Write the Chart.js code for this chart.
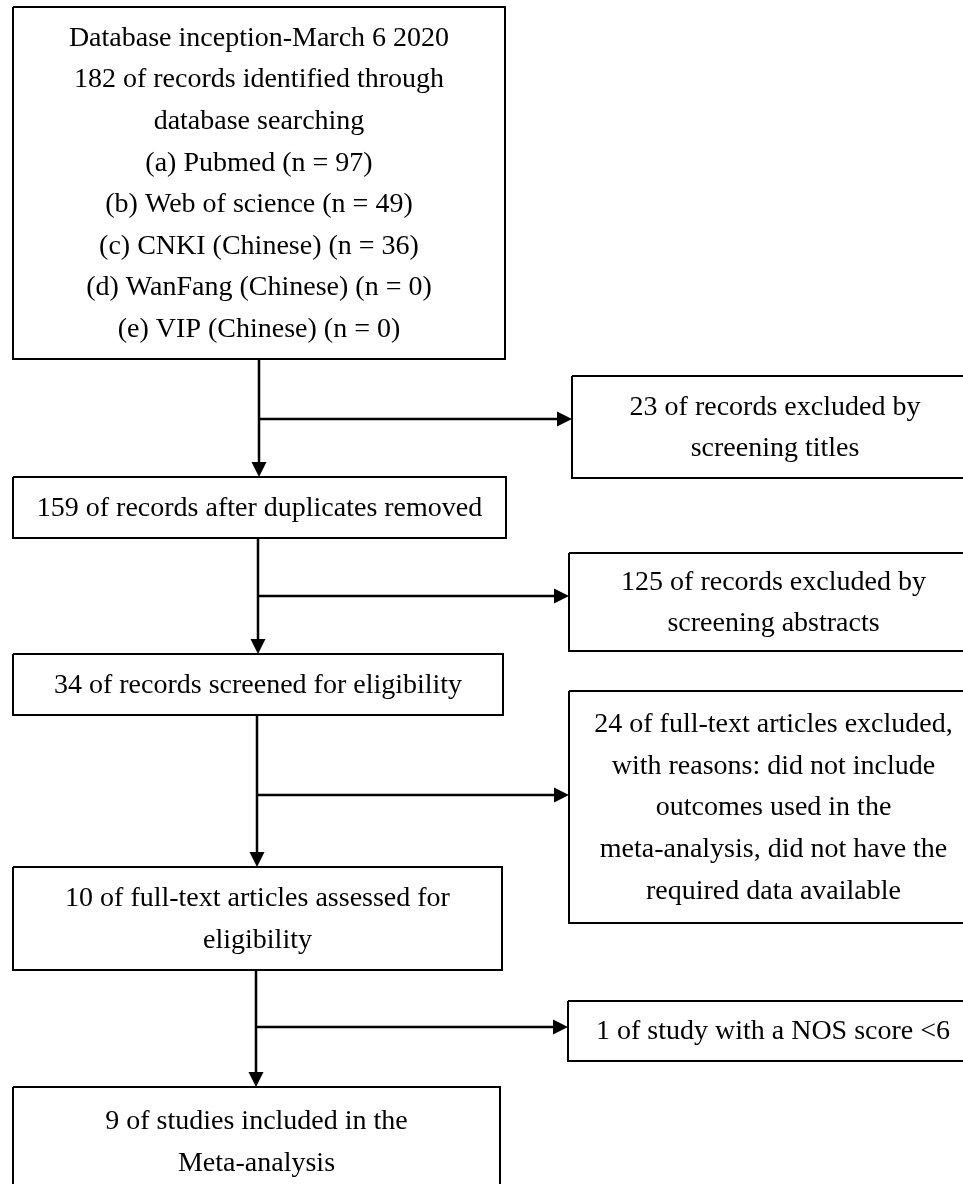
<!DOCTYPE html>
<html>
<head>
<meta charset="utf-8">
<script src="https://cdn.jsdelivr.net/npm/chart.js@4/dist/chart.umd.min.js"></script>
<style>
  html, body { margin: 0; padding: 0; background: #ffffff; }
  #wrap { width: 963px; height: 1184px; position: relative; }
</style>
</head>
<body>
<div id="wrap"><canvas id="c" width="963" height="1184"></canvas></div>
<script>
// ---- flowchart content (text of each box) ----
const boxTexts = [
  ["Database inception-March 6 2020", "182 of records identified through", "database searching",
   "(a) Pubmed (n = 97)", "(b) Web of science (n = 49)", "(c) CNKI (Chinese) (n = 36)",
   "(d) WanFang (Chinese) (n = 0)", "(e) VIP (Chinese) (n = 0)"],
  ["23 of records excluded by", "screening titles"],
  ["159 of records after duplicates removed"],
  ["125 of records excluded by", "screening abstracts"],
  ["34 of records screened for eligibility"],
  ["24 of full-text articles excluded,", "with reasons: did not include", "outcomes used in the",
   "meta-analysis, did not have the", "required data available"],
  ["10 of full-text articles assessed for", "eligibility"],
  ["1 of study with a NOS score <6"],
  ["9 of studies included in the", "Meta-analysis"]
];
// ---- layout in scale units (x: 0..963, y: 0..1184 top-down) ----
const boxLeft   = [13, 572, 13, 569, 13, 569, 13, 568, 13];
const boxTop    = [7, 376, 477, 553, 654, 691, 867, 1001, 1087];
const boxRight  = [505, 978, 506, 978, 503, 978, 502, 978, 500];
const boxBottom = [359, 478, 538, 651, 715, 923, 970, 1061, 1196];
const mainFlow  = [0, 2, 4, 6, 8];       // boxes along the main vertical path
const sideBoxes = [1, 3, 5, 7];          // exclusion boxes
const branchY   = [419, 596, 795, 1027]; // where each branch leaves the trunk
const trunkX    = [259, 258, 257, 256];  // trunk x for each segment

// ---- build datasets (outlines and connector lines) ----
const datasets = [];
for (let i = 0; i < boxTexts.length; i++) {
  datasets.push({
    data: [
      {x: boxLeft[i], y: boxTop[i]}, {x: boxRight[i], y: boxTop[i]},
      {x: boxRight[i], y: boxBottom[i]}, {x: boxLeft[i], y: boxBottom[i]},
      {x: boxLeft[i], y: boxTop[i]}
    ],
    showLine: true, borderColor: '#000', borderWidth: 2, pointRadius: 0,
    fill: false, tension: 0, borderJoinStyle: 'miter', clip: false
  });
}
const arrows = [];
for (let s = 0; s < 4; s++) {
  const a = mainFlow[s], b = mainFlow[s + 1], side = sideBoxes[s];
  datasets.push({
    data: [{x: trunkX[s], y: boxBottom[a]}, {x: trunkX[s], y: boxTop[b] - 12}],
    showLine: true, borderColor: '#000', borderWidth: 2.5, pointRadius: 0, fill: false
  });
  datasets.push({
    data: [{x: trunkX[s], y: branchY[s]}, {x: boxLeft[side] - 12, y: branchY[s]}],
    showLine: true, borderColor: '#000', borderWidth: 2.5, pointRadius: 0, fill: false
  });
  arrows.push({x: trunkX[s], y: boxTop[b], dir: 'down'});
  arrows.push({x: boxLeft[side], y: branchY[s], dir: 'right'});
}

const flowPlugin = {
  id: 'flowPlugin',
  afterDatasetsDraw(chart) {
    const ctx = chart.ctx, xs = chart.scales.x, ys = chart.scales.y;
    ctx.save();
    ctx.fillStyle = '#000';
    // arrowheads
    arrows.forEach(a => {
      const px = xs.getPixelForValue(a.x), py = ys.getPixelForValue(a.y);
      ctx.beginPath();
      if (a.dir === 'down') {
        ctx.moveTo(px, py); ctx.lineTo(px - 7.5, py - 15); ctx.lineTo(px + 7.5, py - 15);
      } else {
        ctx.moveTo(px, py); ctx.lineTo(px - 15, py - 7.5); ctx.lineTo(px - 15, py + 7.5);
      }
      ctx.closePath(); ctx.fill();
    });
    // texts
    ctx.font = "28px 'Liberation Serif', 'Times New Roman', serif";
    ctx.textAlign = 'center';
    ctx.textBaseline = 'middle';
    const lh = 41.6;
    boxTexts.forEach((lines, i) => {
      const cx = (xs.getPixelForValue(boxLeft[i]) + xs.getPixelForValue(boxRight[i])) / 2;
      const cy = (ys.getPixelForValue(boxTop[i]) + ys.getPixelForValue(boxBottom[i])) / 2;
      const y0 = cy - (lines.length - 1) * lh / 2;
      lines.forEach((t, k) => ctx.fillText(t, cx, y0 + k * lh + 1));
    });
    ctx.restore();
  }
};

new Chart(document.getElementById('c'), {
  type: 'scatter',
  data: { datasets },
  options: {
    responsive: false, animation: false,
    layout: { padding: 0 },
    plugins: { legend: { display: false }, tooltip: { enabled: false } },
    scales: {
      x: { type: 'linear', min: 0, max: 963, display: false },
      y: { type: 'linear', min: 0, max: 1184, reverse: true, display: false }
    }
  },
  plugins: [flowPlugin]
});
</script>
</body>
</html>
